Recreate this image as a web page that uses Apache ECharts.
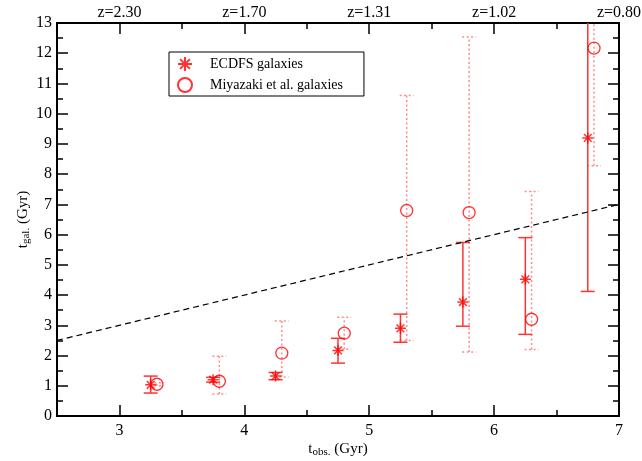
<!DOCTYPE html>
<html>
<head>
<meta charset="utf-8">
<script src="https://cdn.jsdelivr.net/npm/echarts@6/dist/echarts.min.js"></script>
<style>
  html, body { margin: 0; padding: 0; background: #fff; }
  #chart { width: 642px; height: 461px; }
</style>
</head>
<body>
<div id="chart"></div>
<script>
// ECDFS galaxies (stars, solid error bars)
const ecdfsObs = [3.25, 3.75, 4.25, 4.75, 5.25, 5.75, 6.25, 6.75];
const ecdfsGal = [1.03, 1.2, 1.32, 2.17, 2.9, 3.77, 4.52, 9.2];
const ecdfsLow = [0.76, 1.12, 1.2, 1.75, 2.44, 2.97, 2.7, 4.12];
const ecdfsHigh = [1.32, 1.28, 1.44, 2.57, 3.37, 5.74, 5.9, 14];

// Miyazaki et al. galaxies (circles, dotted error bars)
const miyaObs = [3.3, 3.8, 4.3, 4.8, 5.3, 5.8, 6.3, 6.8];
const miyaGal = [1.05, 1.15, 2.08, 2.74, 6.8, 6.73, 3.2, 12.17];
const miyaLow = [1.0, 0.73, 1.29, 2.21, 2.5, 2.12, 2.2, 8.28];
const miyaHigh = [1.1, 1.98, 3.14, 3.27, 10.6, 12.54, 7.43, 14];

// t_gal = t_obs reference line
const lineX = [2.5, 7];
const lineY = [2.5, 7];

// axis ticks
const majorX = [3, 4, 5, 6, 7];
const minorX = [3.5, 4.5, 5.5, 6.5];
const zLabels = ['z=2.30', 'z=1.70', 'z=1.31', 'z=1.02', 'z=0.80'];

const FONT = '"Liberation Serif", "DejaVu Serif", serif';
const STAR = 'path://M5,0L5,10M0,5L10,5M1.5,1.5L8.5,8.5M8.5,1.5L1.5,8.5';

function errorBars(xs, lows, highs, style) {
    return {
        type: 'custom',
        clip: true,
        silent: true,
        data: xs.map((x, i) => [x, lows[i], highs[i]]),
        renderItem: function (params, api) {
            let lo = api.coord([api.value(0), api.value(1)]);
            let hi = api.coord([api.value(0), api.value(2)]);
            let w = 7;
            return {
                type: 'group',
                children: [
                    { type: 'line', shape: { x1: lo[0], y1: lo[1], x2: hi[0], y2: hi[1] }, style: style },
                    { type: 'line', shape: { x1: lo[0] - w, y1: lo[1], x2: lo[0] + w, y2: lo[1] }, style: style },
                    { type: 'line', shape: { x1: hi[0] - w, y1: hi[1], x2: hi[0] + w, y2: hi[1] }, style: style }
                ]
            };
        },
        z: 1
    };
}

function xAx(pos, ticks, len, labels) {
    return {
        type: 'value',
        position: pos,
        min: 2.5,
        max: 7,
        axisLine: { show: true, onZero: false, lineStyle: { color: '#000', width: 2 } },
        axisTick: { show: true, inside: true, length: len, customValues: ticks, lineStyle: { color: '#000', width: 1.5 } },
        axisLabel: labels ? {
            show: true, customValues: ticks, margin: pos === 'top' ? 2 : 7,
            color: '#000', fontFamily: FONT, fontSize: 16,
            formatter: labels
        } : { show: false },
        splitLine: { show: false }
    };
}

function yAx(pos, showLabels) {
    return {
        type: 'value',
        position: pos,
        min: 0,
        max: 13,
        interval: 1,
        axisLine: { show: true, onZero: false, lineStyle: { color: '#000', width: 2 } },
        axisTick: { show: true, inside: true, length: 11, lineStyle: { color: '#000', width: 1.5 } },
        minorTick: { show: true, splitNumber: 2, length: 6, lineStyle: { color: '#000', width: 1.5 } },
        axisLabel: { show: showLabels, margin: 5, color: '#000', fontFamily: FONT, fontSize: 16 },
        splitLine: { show: false }
    };
}

let myChart = echarts.init(document.getElementById('chart'));

let nameRich = {
    a: { fontFamily: FONT, fontSize: 15, color: '#000', lineHeight: 16, verticalAlign: 'top' },
    b: { fontFamily: FONT, fontSize: 11, color: '#000', lineHeight: 10, padding: [10, 0, 0, 0], verticalAlign: 'bottom' }
};

let xBottom = xAx('bottom', majorX, 11, v => String(v));
xBottom.name = '{a|t}{b|obs.}{a| (Gyr)}';
xBottom.nameLocation = 'middle';
xBottom.nameGap = 26;
xBottom.nameMoveOverlap = false;
xBottom.nameTextStyle = { rich: nameRich };

let yLeft = yAx('left', true);
yLeft.name = '{a|t}{b|gal.}{a| (Gyr)}';
yLeft.nameLocation = 'middle';
yLeft.nameGap = 25;
yLeft.nameMoveOverlap = false;
yLeft.nameTextStyle = { rich: nameRich };

myChart.setOption({
    animation: false,
    backgroundColor: '#fff',
    grid: { left: 57, right: 23, top: 23, bottom: 45, containLabel: false, outerBoundsMode: 'none' },
    legend: {
        left: 169,
        top: 52,
        orient: 'vertical',
        backgroundColor: '#fff',
        borderColor: '#000',
        borderWidth: 1,
        borderRadius: 0,
        padding: [4, 21, 3, 8],
        itemWidth: 14,
        itemHeight: 14,
        itemGap: 5,
        textStyle: { fontFamily: FONT, fontSize: 14, color: '#000', padding: [0, 0, 0, 13] },
        data: ['ECDFS galaxies', 'Miyazaki et al. galaxies']
    },
    xAxis: [
        xBottom,
        xAx('top', majorX, 11, (v) => zLabels[majorX.indexOf(v)]),
        xAx('bottom', minorX, 6, null),
        xAx('top', minorX, 6, null)
    ],
    yAxis: [yLeft, yAx('right', false)],
    series: [
        errorBars(miyaObs, miyaLow, miyaHigh, { stroke: '#ff8c8c', lineWidth: 1.5, lineDash: [2, 2.5] }),
        errorBars(ecdfsObs, ecdfsLow, ecdfsHigh, { stroke: '#ff3333', lineWidth: 1.5 }),
        {
            type: 'line',
            data: lineX.map((x, i) => [x, lineY[i]]),
            showSymbol: false,
            lineStyle: { color: '#000', width: 1.2, type: [6, 4] },
            silent: true,
            z: 2
        },
        {
            name: 'ECDFS galaxies',
            type: 'scatter',
            data: ecdfsObs.map((x, i) => [x, ecdfsGal[i]]),
            symbol: STAR,
            symbolSize: 11,
            itemStyle: { color: 'rgba(0,0,0,0)', borderColor: '#ff0000', borderWidth: 1.5 },
            z: 3
        },
        {
            name: 'Miyazaki et al. galaxies',
            type: 'scatter',
            data: miyaObs.map((x, i) => [x, miyaGal[i]]),
            symbol: 'circle',
            symbolSize: 12,
            itemStyle: { color: 'rgba(0,0,0,0)', borderColor: '#ff0000', borderWidth: 1.3 },
            z: 3
        }
    ]
});
</script>
</body>
</html>
